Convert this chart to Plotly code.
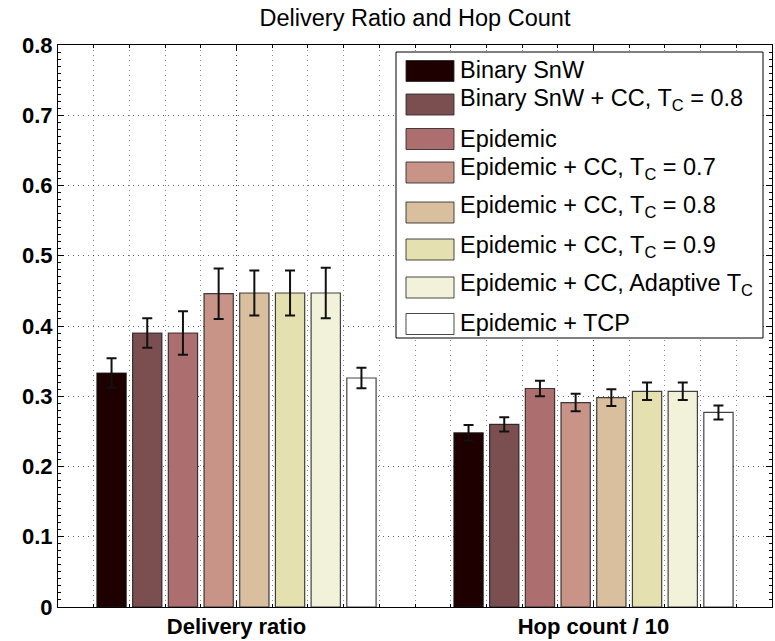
import numpy as np
import plotly.graph_objects as go

# ---- data -------------------------------------------------------------
categories = ["Delivery ratio", "Hop count / 10"]
category_pos = [1, 2]

series_names = [
    "Binary SnW",
    "Binary SnW + CC, T<sub>C</sub> = 0.8",
    "Epidemic",
    "Epidemic + CC, T<sub>C</sub> = 0.7",
    "Epidemic + CC, T<sub>C</sub> = 0.8",
    "Epidemic + CC, T<sub>C</sub> = 0.9",
    "Epidemic + CC, Adaptive T<sub>C</sub>",
    "Epidemic + TCP",
]

delivery_ratio = [0.333, 0.390, 0.390, 0.446, 0.447, 0.447, 0.447, 0.326]
delivery_err = [0.021, 0.021, 0.031, 0.036, 0.032, 0.032, 0.036, 0.0145]

hop_count_10 = [0.248, 0.260, 0.311, 0.291, 0.298, 0.307, 0.307, 0.277]
hop_err = [0.011, 0.010, 0.011, 0.0125, 0.012, 0.0125, 0.0125, 0.010]

y_ticks = [0, 0.1, 0.2, 0.3, 0.4, 0.5, 0.6, 0.7, 0.8]
y_ticktext = ["0", "0.1", "0.2", "0.3", "0.4", "0.5", "0.6", "0.7", "0.8"]

# ---- styling ----------------------------------------------------------
colors = ["#1e0000", "#7b4f4f", "#ac6e6e", "#c99488",
          "#d9bf9e", "#e4e0b0", "#f2f2da", "#ffffff"]
FONT = "Liberation Sans, Arial, Helvetica, sans-serif"

W, H = 775, 641
ML, MR, MT, MB = 58, 3, 45, 34
PW, PH = W - ML - MR, H - MT - MB


def px_x(px):
    return (px - ML) / PW


def px_y(py):
    return (H - MB - py) / PH


fig = go.Figure()
for i, name in enumerate(series_names):
    fig.add_trace(go.Bar(
        x=category_pos,
        y=[delivery_ratio[i], hop_count_10[i]],
        name=name,
        marker=dict(color=colors[i],
                    line=dict(color="rgba(20,20,20,0.8)", width=1.2)),
        error_y=dict(type="data", array=[delivery_err[i], hop_err[i]],
                     visible=True, color="#111111", thickness=2, width=5),
        showlegend=False,
    ))

# ---- legend box (drawn as shapes + text) ------------------------------
box = dict(x0=396, x1=763, y0=52, y1=338)
fig.add_shape(type="rect", xref="paper", yref="paper",
              x0=px_x(box["x0"]), x1=px_x(box["x1"]),
              y0=px_y(box["y1"]), y1=px_y(box["y0"]),
              fillcolor="white", line=dict(color="black", width=1),
              layer="above")

swatch_centers = [71, 104.5, 139, 172.5, 212.5, 249.5, 287.5, 324]
text_centers = [69.5, 99.5, 139, 168, 206.5, 246.5, 284.5, 322.5]
for i, name in enumerate(series_names):
    cy = swatch_centers[i]
    fig.add_shape(type="rect", xref="paper", yref="paper",
                  x0=px_x(406), x1=px_x(454),
                  y0=px_y(cy + 10.5), y1=px_y(cy - 10.5),
                  fillcolor=colors[i],
                  line=dict(color="rgba(40,40,40,0.85)", width=1),
                  layer="above")
    fig.add_annotation(xref="paper", yref="paper",
                       x=px_x(458), y=px_y(text_centers[i]),
                       xanchor="left", yanchor="middle",
                       text=name, showarrow=False,
                       font=dict(family=FONT, size=23.5, color="black"))

grid_dash = "1px,4px"
minor_x = [round(v, 2) for v in np.arange(0.6, 2.45, 0.1)]

fig.update_layout(
    width=W, height=H,
    margin=dict(l=ML, r=MR, t=MT, b=MB, pad=0),
    paper_bgcolor="white", plot_bgcolor="white",
    barmode="group", bargap=0.2, bargroupgap=0.18,
    font=dict(family=FONT, color="black"),
    title=dict(text="Delivery Ratio and Hop Count",
               x=0.5, xref="paper", xanchor="center",
               y=1 - 18 / H, yref="container", yanchor="middle",
               font=dict(family=FONT, size=23.5, color="black")),
    xaxis=dict(
        range=[0.5, 2.5], tickmode="array",
        tickvals=category_pos, ticktext=categories,
        tickfont=dict(family=FONT, size=22, color="black", weight="bold"),
        ticks="inside", ticklen=6, tickcolor="black",
        showline=True, linecolor="black", linewidth=1, mirror="ticks",
        showgrid=True, gridcolor="rgba(0,0,0,0.6)", griddash=grid_dash,
        gridwidth=1, zeroline=False,
        minor=dict(tickmode="array", tickvals=minor_x, ticks="inside",
                   ticklen=3, tickcolor="black", showgrid=True,
                   gridcolor="rgba(0,0,0,0.45)", griddash=grid_dash,
                   gridwidth=1),
    ),
    yaxis=dict(
        range=[0, 0.8], tickmode="array",
        tickvals=y_ticks, ticktext=y_ticktext,
        tickfont=dict(family=FONT, size=22, color="black", weight="bold"),
        ticks="inside", ticklen=6, tickcolor="black",
        showline=True, linecolor="black", linewidth=1, mirror="ticks",
        showgrid=True, gridcolor="rgba(0,0,0,0.6)", griddash=grid_dash,
        gridwidth=1, zeroline=False,
        minor=dict(dtick=0.01, ticks="inside", ticklen=3,
                   tickcolor="black", showgrid=False),
    ),
)

fig.write_html("out.html")
